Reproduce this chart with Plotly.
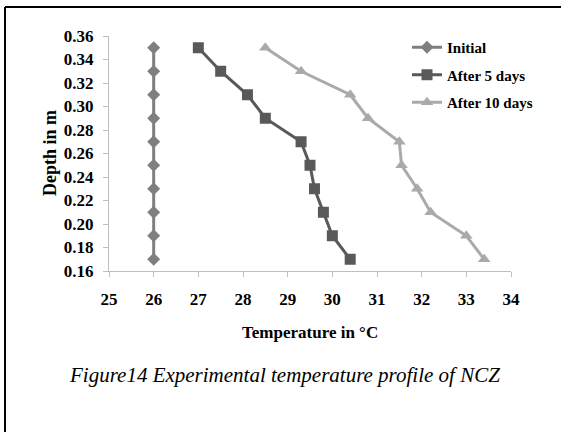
import plotly.graph_objects as go

depth = [0.35, 0.33, 0.31, 0.29, 0.27, 0.25, 0.23, 0.21, 0.19, 0.17]
temp_initial = [26, 26, 26, 26, 26, 26, 26, 26, 26, 26]
temp_5days = [27.0, 27.5, 28.1, 28.5, 29.3, 29.5, 29.6, 29.8, 30.0, 30.4]
temp_10days = [28.5, 29.3, 30.4, 30.8, 31.5, 31.55, 31.9, 32.2, 33.0, 33.4]
series_names = ["Initial", "After 5 days", "After 10 days"]
x_ticks = [25, 26, 27, 28, 29, 30, 31, 32, 33, 34]
y_ticks = [0.16, 0.18, 0.20, 0.22, 0.24, 0.26, 0.28, 0.30, 0.32, 0.34, 0.36]

FONT = "Liberation Serif"

fig = go.Figure()
styles = [
    dict(color="#7f7f7f", symbol="diamond", size=10),
    dict(color="#595959", symbol="square", size=11),
    dict(color="#aaaaaa", symbol="triangle-up", size=11),
]
for i, (name, xs) in enumerate(zip(series_names, [temp_initial, temp_5days, temp_10days])):
    st = styles[i]
    fig.add_trace(go.Scatter(
        x=xs, y=depth, name=name, mode="lines+markers",
        legendgroup=f"g{i}",
        line=dict(color=st["color"], width=3),
        marker=dict(color=st["color"], symbol=st["symbol"], size=st["size"]),
    ))

L, R, T, B = 109, 50, 36, 161
W, H = 561, 432
pw, ph = W - L - R, H - T - B

def px_x(px):
    return (px - L) / pw

def px_y(py):
    return (H - B - py) / ph

axis_common = dict(
    showline=True, linecolor="#bfbfbf", linewidth=1,
    ticks="outside", ticklen=5, tickcolor="#bfbfbf", tickwidth=1,
    showgrid=False, zeroline=False,
    tickfont=dict(family=FONT, size=17, color="black", weight="bold"),
)

fig.update_xaxes(range=[25, 34], tickvals=x_ticks, ticktext=[str(v) for v in x_ticks],
                 ticklabelstandoff=8, **axis_common)
fig.update_yaxes(range=[0.16, 0.36], tickvals=y_ticks, ticktext=[f"{v:.2f}" for v in y_ticks],
                 ticklabelstandoff=6, **axis_common)

fig.add_annotation(x=0.5, y=px_y(332), xref="paper", yref="paper", showarrow=False,
                   text="Temperature in °C", xanchor="center", yanchor="middle",
                   font=dict(family=FONT, size=17, color="black", weight="bold"))
fig.add_annotation(x=px_x(50), y=px_y(153), xref="paper", yref="paper", showarrow=False,
                   text="Depth in m", textangle=-90, xanchor="center", yanchor="middle",
                   font=dict(family=FONT, size=18, color="black", weight="bold"))
fig.add_annotation(x=px_x(284.5), y=px_y(375), xref="paper", yref="paper", showarrow=False,
                   text="Figure14 Experimental temperature profile of NCZ",
                   xanchor="center", yanchor="middle",
                   font=dict(family=FONT, size=21, color="black", style="italic"))

# page border lines (top and left)
fig.add_shape(type="line", xref="paper", yref="paper",
              x0=px_x(5), x1=px_x(600), y0=px_y(7), y1=px_y(7),
              line=dict(color="black", width=2))
fig.add_shape(type="line", xref="paper", yref="paper",
              x0=px_x(5), x1=px_x(5), y0=px_y(7), y1=px_y(480),
              line=dict(color="black", width=2))

fig.update_layout(
    width=W, height=H,
    margin=dict(l=L, r=R, t=T, b=B),
    paper_bgcolor="white", plot_bgcolor="white",
    showlegend=True,
    legend=dict(x=px_x(407), y=px_y(31), xanchor="left", yanchor="top",
                traceorder="grouped", tracegroupgap=5,
                font=dict(family=FONT, size=15, color="black", weight="bold"),
                bgcolor="rgba(0,0,0,0)", borderwidth=0),
)

fig.write_html("out.html")
